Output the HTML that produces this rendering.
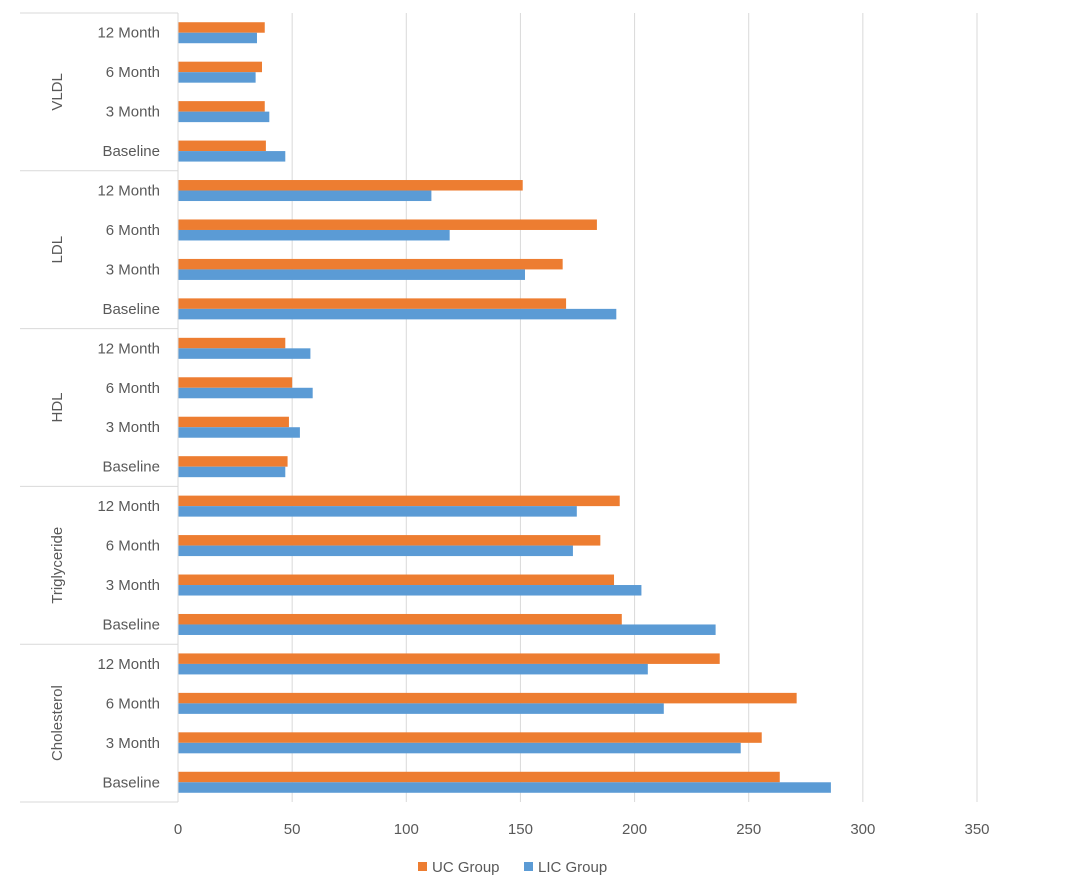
<!DOCTYPE html>
<html><head><meta charset="utf-8"><style>
body{margin:0;background:#fff;}
svg text{font-family:"Liberation Sans",sans-serif;fill:#595959;}
</style></head><body>
<svg id="chart" width="1082" height="888" xmlns="http://www.w3.org/2000/svg"></svg>
<script>
const groups=["VLDL","LDL","HDL","Triglyceride","Cholesterol"];
const periods=["12 Month","6 Month","3 Month","Baseline"];
const ucValues=[38,36.8,38,38.5, 151,183.5,168.5,170, 47,50,48.6,48, 193.5,185,191,194.4, 237.3,271,255.7,263.6];
const licValues=[34.6,34,40,47, 111,119,152,192, 58,59,53.4,47, 174.7,173,203,235.5, 205.8,212.8,246.5,286];
const xTicks=[0,50,100,150,200,250,300,350];
const NS="http://www.w3.org/2000/svg";
const svgEl=document.getElementById('chart');
const plotLeft=178,plotRight=977,plotTop=13,plotBottom=802;
const xs=v=>plotLeft+(v/350)*(plotRight-plotLeft);
const n=ucValues.length, band=(plotBottom-plotTop)/n;
function el(t,a){const e=document.createElementNS(NS,t);for(const k in a)e.setAttribute(k,a[k]);svgEl.appendChild(e);return e;}
xTicks.forEach(t=>{
  if(t>0){const g=el('line',{x1:xs(t),x2:xs(t),y1:plotTop,y2:plotBottom,stroke:'#d9d9d9','stroke-width':1});
  
  }
  const l=el('text',{x:xs(t),y:834,'text-anchor':'middle','font-size':15});l.textContent=t;
  
  
});
for(let i=0;i<n;i++){
  const y=plotTop+i*band+band/2;
  const bo=el('rect',{x:plotLeft,y:y-10.5,width:xs(ucValues[i])-plotLeft,height:10.5,fill:'#ed7d31'});
  
  
  const bb=el('rect',{x:plotLeft,y:y,width:xs(licValues[i])-plotLeft,height:10.5,fill:'#5b9bd5'});
  
  
  const l=el('text',{x:160,y:y+5,'text-anchor':'end','font-size':15});l.textContent=periods[i%4];
  
  
}
const ax=el('line',{x1:plotLeft,x2:plotLeft,y1:plotTop,y2:plotBottom,stroke:'#d9d9d9','stroke-width':1});


for(let g=0;g<=groups.length;g++){
  const y=plotTop+g*4*band;
  const s=el('line',{x1:20,x2:plotLeft,y1:y,y2:y,stroke:'#d9d9d9','stroke-width':1});
  
  
  if(g<groups.length){
    const cy=y+2*band;
    const t=el('text',{x:62,y:cy,'text-anchor':'middle','font-size':15,transform:`rotate(-90 62 ${cy})`});
    t.textContent=groups[g];
    
    
  }
}
const legend=[["UC Group","#ed7d31",418],["LIC Group","#5b9bd5",524]];
legend.forEach(([name,c,x])=>{
  const r=el('rect',{x:x,y:862,width:9,height:9,fill:c});
  
  
  const t=el('text',{x:x+14,y:872,'font-size':15});t.textContent=name;
  
  
});
</script>
</body></html>
